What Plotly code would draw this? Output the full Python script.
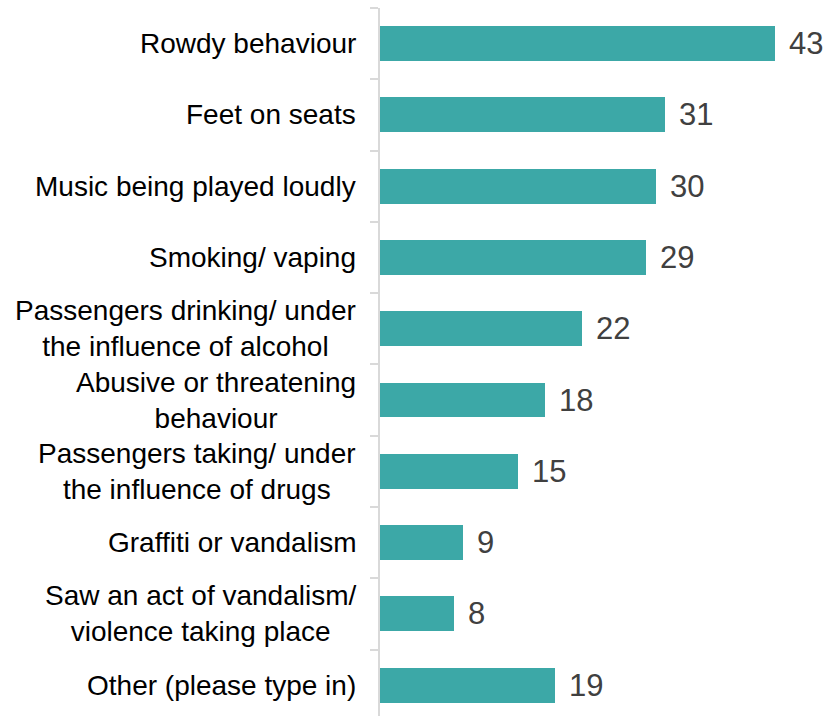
import plotly.graph_objects as go

categories = [
    "Rowdy behaviour",
    "Feet on seats",
    "Music being played loudly",
    "Smoking/ vaping",
    "Passengers drinking/ under<br>the influence of alcohol",
    "Abusive or threatening<br>behaviour",
    "Passengers taking/ under<br>the influence of drugs",
    "Graffiti or vandalism",
    "Saw an act of vandalism/<br>violence taking place",
    "Other (please type in)",
]
values = [43, 31, 30, 29, 22, 18, 15, 9, 8, 19]

FONT = "Arial, Liberation Sans, sans-serif"
BAR_COLOR = "#3CA8A7"
AXIS_COLOR = "#D9D9D9"

positions = list(range(len(categories)))

fig = go.Figure(
    go.Bar(
        x=values,
        y=positions,
        orientation="h",
        width=0.49,
        marker=dict(color=BAR_COLOR, line=dict(width=0)),
        hoverinfo="skip",
    )
)

annotations = []
for pos, cat, val in zip(positions, categories, values):
    # category label, right-aligned block next to the axis
    annotations.append(dict(
        x=0, y=pos, xref="paper", yref="y",
        text=cat, showarrow=False,
        xanchor="right", yanchor="middle", align="center",
        xshift=-22,
        font=dict(family=FONT, size=28, color="#000000"),
    ))
    # value label just past the end of the bar
    annotations.append(dict(
        x=val, y=pos, xref="x", yref="y",
        text=str(val), showarrow=False,
        xanchor="left", yanchor="middle",
        xshift=12,
        font=dict(family=FONT, size=31, color="#404040"),
    ))

fig.update_layout(
    width=830, height=716,
    margin=dict(l=380, r=9, t=8, b=0),
    paper_bgcolor="white", plot_bgcolor="white",
    showlegend=False,
    bargap=0,
    annotations=annotations,
    xaxis=dict(
        range=[0, 48], visible=False, fixedrange=True,
    ),
    yaxis=dict(
        range=[9.433, -0.5],
        tickvals=[p - 0.5 for p in positions] + [len(positions) - 0.5],
        showticklabels=False,
        ticks="outside", ticklen=8, tickwidth=2, tickcolor=AXIS_COLOR,
        showline=True, linecolor=AXIS_COLOR, linewidth=2,
        showgrid=False, zeroline=False, fixedrange=True,
    ),
)

fig.write_html("out.html")
